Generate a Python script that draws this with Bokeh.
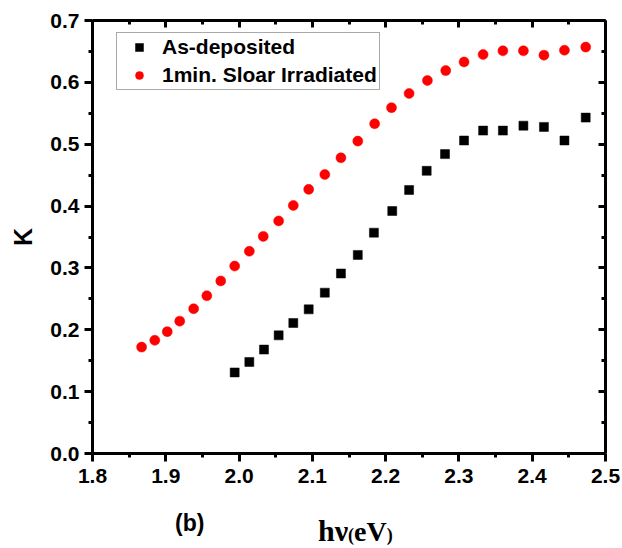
from bokeh.plotting import figure
from bokeh.layouts import column
from bokeh.models import (Range1d, LinearAxis, FixedTicker, Legend, LegendItem,
                          ColumnDataSource, PrintfTickFormatter,
                          CustomJSTickFormatter, Div)
from bokeh.embed import file_html
from bokeh.resources import INLINE

# Extinction coefficient K versus photon energy
energy_dep = [1.994, 2.014, 2.034, 2.054, 2.074, 2.095, 2.117, 2.139, 2.162, 2.184,
              2.209, 2.232, 2.256, 2.281, 2.307, 2.333, 2.360, 2.388, 2.416, 2.444, 2.473]
k_dep = [0.131, 0.148, 0.168, 0.191, 0.211, 0.233, 0.260, 0.291, 0.321, 0.357,
         0.392, 0.426, 0.457, 0.484, 0.506, 0.522, 0.522, 0.530, 0.528, 0.506, 0.543]

energy_irr = [1.867, 1.885, 1.902, 1.919, 1.938, 1.956, 1.975, 1.994, 2.014, 2.033,
              2.054, 2.074, 2.095, 2.117, 2.139, 2.162, 2.185, 2.208, 2.232, 2.257,
              2.282, 2.307, 2.333, 2.360, 2.388, 2.416, 2.444, 2.473]
k_irr = [0.172, 0.183, 0.197, 0.214, 0.234, 0.255, 0.279, 0.303, 0.327, 0.351,
         0.376, 0.401, 0.427, 0.451, 0.478, 0.505, 0.533, 0.559, 0.582, 0.603,
         0.619, 0.633, 0.645, 0.651, 0.651, 0.644, 0.652, 0.657]

series_names = ["As-deposited", "1min. Sloar Irradiated"]

x_major = [1.8, 1.9, 2.0, 2.1, 2.2, 2.3, 2.4, 2.5]
x_minor = [1.85, 1.95, 2.05, 2.15, 2.25, 2.35, 2.45]
y_major = [0.0, 0.1, 0.2, 0.3, 0.4, 0.5, 0.6, 0.7]
y_minor = [0.05, 0.15, 0.25, 0.35, 0.45, 0.55, 0.65]

SANS = "Liberation Sans"
SERIF = "Liberation Serif"

p = figure(width=622, height=495, x_range=Range1d(1.8, 2.5), y_range=Range1d(0.0, 0.7),
           output_backend="svg", toolbar_location=None,
           min_border_left=92, min_border_right=17, min_border_top=20, min_border_bottom=42)
p.xgrid.visible = False
p.ygrid.visible = False
p.outline_line_color = None
p.background_fill_color = "white"
p.border_fill_color = "white"


def style_axis(ax, major, minor, labels=True):
    ax.ticker = FixedTicker(ticks=major, minor_ticks=minor)
    ax.axis_line_width = 3
    ax.axis_line_color = "black"
    ax.major_tick_line_width = 3
    ax.minor_tick_line_width = 3
    ax.major_tick_line_color = "black"
    ax.minor_tick_line_color = "black"
    if labels:
        ax.major_tick_in, ax.major_tick_out = 0, 8
        ax.minor_tick_in, ax.minor_tick_out = 0, 4
        ax.formatter = PrintfTickFormatter(format="%.1f")
        ax.major_label_text_font = SANS
        ax.major_label_text_font_style = "bold"
        ax.major_label_text_font_size = "21px"
        ax.major_label_text_color = "black"
    else:
        # mirrored frame side: ticks point into the plot, no numbers
        ax.major_tick_in, ax.major_tick_out = 7, 0
        ax.minor_tick_in, ax.minor_tick_out = 4, 0
        ax.formatter = CustomJSTickFormatter(code="return ''")
        ax.major_label_standoff = 0


xb = p.xaxis[0]
style_axis(xb, x_major, x_minor)
xb.major_label_standoff = 7

yl = p.yaxis[0]
style_axis(yl, y_major, y_minor)
yl.major_label_standoff = 5
yl.axis_label = "K"
yl.axis_label_text_font = SANS
yl.axis_label_text_font_style = "bold"
yl.axis_label_text_font_size = "25px"
yl.axis_label_text_color = "black"
yl.axis_label_standoff = 10

xt = LinearAxis()
style_axis(xt, x_major, x_minor, labels=False)
p.add_layout(xt, "above")

yr = LinearAxis()
style_axis(yr, y_major, y_minor, labels=False)
p.add_layout(yr, "right")

src_dep = ColumnDataSource(dict(x=energy_dep, y=k_dep))
src_irr = ColumnDataSource(dict(x=energy_irr, y=k_irr))
r_dep = p.scatter("x", "y", source=src_dep, marker="square", size=9,
                  fill_color="black", line_color="black", line_width=0.5)
r_irr = p.scatter("x", "y", source=src_irr, marker="circle", size=10,
                  fill_color="red", line_color="red", line_width=0.5)

legend = Legend(items=[LegendItem(label=series_names[0], renderers=[r_dep]),
                       LegendItem(label=series_names[1], renderers=[r_irr])],
                location=(24, 363))
legend.label_text_font = SANS
legend.label_text_font_style = "bold"
legend.label_text_font_size = "21px"
legend.label_text_color = "black"
legend.glyph_width = 40
legend.glyph_height = 20
legend.label_height = 20
legend.label_standoff = 3
legend.padding = 2
legend.spacing = 4
legend.margin = 0
legend.border_line_color = "#555555"
legend.border_line_width = 1
legend.background_fill_color = "white"
legend.background_fill_alpha = 1.0
p.add_layout(legend)

# strip under the chart: panel tag and the x-axis title hν(eV)
caption_html = (
    '<div style="position:relative;width:622px;height:53px;background:white;">'
    '<span style="position:absolute;left:175px;top:17px;line-height:1;'
    'font-family:\'Liberation Sans\';font-weight:bold;font-size:23px;color:black;'
    'white-space:nowrap;">(b)</span>'
    '<span style="position:absolute;left:318px;top:21px;line-height:1;'
    'font-family:\'Liberation Serif\';font-weight:bold;font-size:30px;color:black;'
    'white-space:nowrap;">hν<span style="font-size:18px;">(</span>'
    '<span style="font-size:28px;">eV</span><span style="font-size:18px;">)</span></span>'
    '</div>'
)
cap = Div(text=caption_html, width=622, height=53, margin=0)

layout = column(p, cap, spacing=0)
open("out.html", "w").write(file_html(layout, INLINE))
